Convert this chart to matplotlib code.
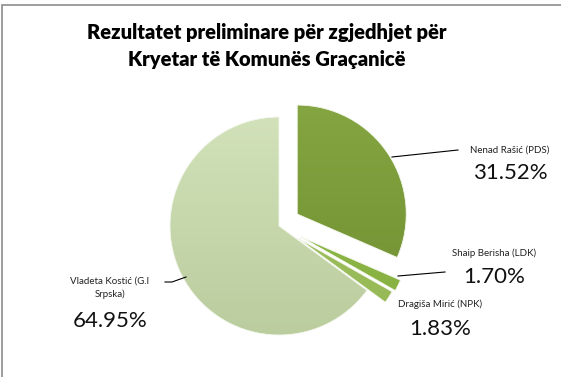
import numpy as np
import matplotlib
matplotlib.use('Agg')
import matplotlib.pyplot as plt
from matplotlib.colors import LinearSegmentedColormap
from matplotlib.patches import Rectangle

plt.rcParams['font.family'] = ['Lato', 'DejaVu Sans']

# data
names = ['Nenad Rašić (PDS)', 'Shaip Berisha (LDK)', 'Dragiša Mirić (NPK)', 'Vladeta Kostić (G.I\nSrpska)']
shares = [31.52, 1.70, 1.83, 64.95]
title = 'Rezultatet preliminare për zgjedhjet për\nKryetar të Komunës Graçanicë'

explode = [0.2, 0.22, 0.2, 0]
top_cols = ['#86a742', '#94bf4c', '#a6c765', '#d5e4bd']
bot_cols = ['#6c8b30', '#84ad3f', '#93b552', '#b7ca9a']

W, H = 561, 377
fig = plt.figure(figsize=(W / 100, H / 100), dpi=100)
ax = fig.add_axes([0, 0, 1, 1])

cx, cy, r = 279, H - 226, 109
# pie explode is in data units here, so scale by radius
wedges, _ = ax.pie(shares, explode=[e * r for e in explode], startangle=90, counterclock=False,
                   center=(cx, cy), radius=r, frame=True,
                   wedgeprops=dict(linewidth=0.6, edgecolor='#f4f7ee'))
ax.set_xlim(0, W)
ax.set_ylim(0, H)
ax.set_aspect('equal')
ax.axis('off')

# vertical gradient fill for every slice
grad = np.linspace(0, 1, 256).reshape(-1, 1)
for w, c1, c2 in zip(wedges, top_cols, bot_cols):
    w.set_facecolor('none')
    cmap = LinearSegmentedColormap.from_list('g', [c2, c1])
    im = ax.imshow(grad, cmap=cmap, origin='lower', aspect='auto',
                   extent=[cx - 1.4 * r, cx + 1.4 * r, cy - 1.3 * r, cy + 1.3 * r], zorder=0.5)
    im.set_clip_path(w)
    w.set_zorder(1)
ax.set_xlim(0, W)
ax.set_ylim(0, H)

# labels
lab_kw = dict(fontsize=7, color='#222222')
pct_kw = dict(fontsize=16, color='#111111')

ax.text(510, H - 150, names[0], ha='center', va='center', **lab_kw)
ax.text(510, H - 173, f'{shares[0]:.2f}%', ha='center', va='center', **pct_kw)
ax.plot([392, 458], [H - 157, H - 150], color='black', lw=0.8)

ax.text(494, H - 253, names[1], ha='center', va='center', **lab_kw)
ax.text(494, H - 277, f'{shares[1]:.2f}%', ha='center', va='center', **pct_kw)
ax.plot([398, 445], [H - 276, H - 272], color='black', lw=0.8)

ax.text(440, H - 304, names[2], ha='center', va='center', **lab_kw)
ax.text(440, H - 329, f'{shares[2]:.2f}%', ha='center', va='center', **pct_kw)

ax.text(110, H - 288, names[3], ha='center', va='center', linespacing=1.5, **lab_kw)
ax.text(110, H - 321, f'{shares[3]:.2f}%', ha='center', va='center', **pct_kw)
ax.plot([165, 172, 186], [H - 282, H - 282, H - 277], color='black', lw=0.8)

ax.text(267, H - 46, title, ha='center', va='center', fontsize=14.5,
        fontweight='heavy', linespacing=1.5, color='black')

fig.patches.append(Rectangle((2 / W, -0.01), 1, 1 - 1 / H, transform=fig.transFigure,
                             fill=False, edgecolor='#8c8c8c', lw=1.2))

fig.savefig('out.png', dpi=100)
